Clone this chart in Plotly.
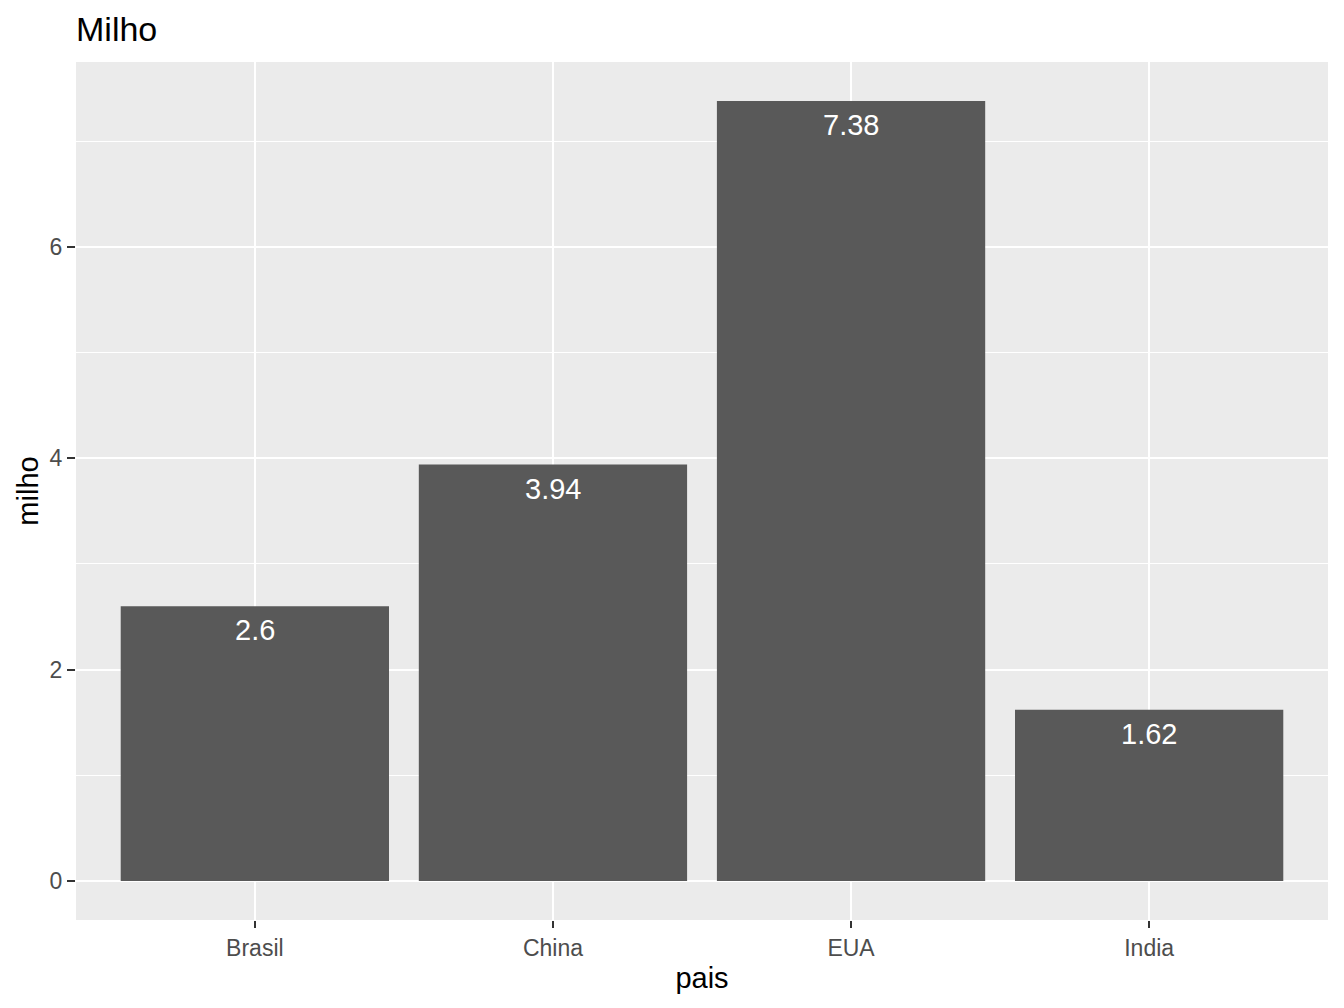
import plotly.graph_objects as go

paises = ["Brasil", "China", "EUA", "India"]
milho = [2.6, 3.94, 7.38, 1.62]
rotulos = ["2.6", "3.94", "7.38", "1.62"]

FONT = "Liberation Sans, Arial, sans-serif"

fig = go.Figure()
fig.add_trace(go.Bar(
    x=paises, y=milho, width=0.9,
    marker=dict(color="#595959", line=dict(width=0)),
    showlegend=False,
))

for p, v, t in zip(paises, milho, rotulos):
    fig.add_annotation(x=p, y=v, text=t, showarrow=False,
                       yanchor="middle", yshift=-24,
                       font=dict(family=FONT, size=29, color="white"))

fig.update_layout(
    width=1344, height=1008,
    margin=dict(l=68, r=24, t=54, b=96),
    paper_bgcolor="white",
    plot_bgcolor="#EBEBEB",
    bargap=0.1,
    title=dict(text="Milho", x=68/1344, xanchor="left", xref="container",
               y=1 - 21/1008, yanchor="middle", yref="container",
               font=dict(family=FONT, size=34, color="black")),
    font=dict(family=FONT),
)

fig.update_xaxes(
    type="category", range=[-0.6, 3.6],
    showgrid=True, gridcolor="white", gridwidth=2,
    ticks="outside", ticklen=7, tickwidth=2, tickcolor="#333333",
    tickfont=dict(family=FONT, size=23, color="#4D4D4D"),
    title=dict(text="pais", font=dict(family=FONT, size=29, color="black"), standoff=8),
    showline=False, zeroline=False, automargin=False,
)
fig.update_yaxes(
    range=[-0.369, 7.749],
    tickmode="linear", tick0=0, dtick=2,
    showgrid=True, gridcolor="white", gridwidth=2,
    minor=dict(tickmode="linear", tick0=0, dtick=1, showgrid=True, gridcolor="white", gridwidth=1, ticks=""),
    ticks="outside", ticklen=8, tickwidth=2, tickcolor="#333333",
    tickfont=dict(family=FONT, size=23, color="#4D4D4D"),
    title=dict(text="milho", font=dict(family=FONT, size=29, color="black"), standoff=2),
    showline=False, zeroline=False, automargin=False,
)

fig.write_html("out.html")
